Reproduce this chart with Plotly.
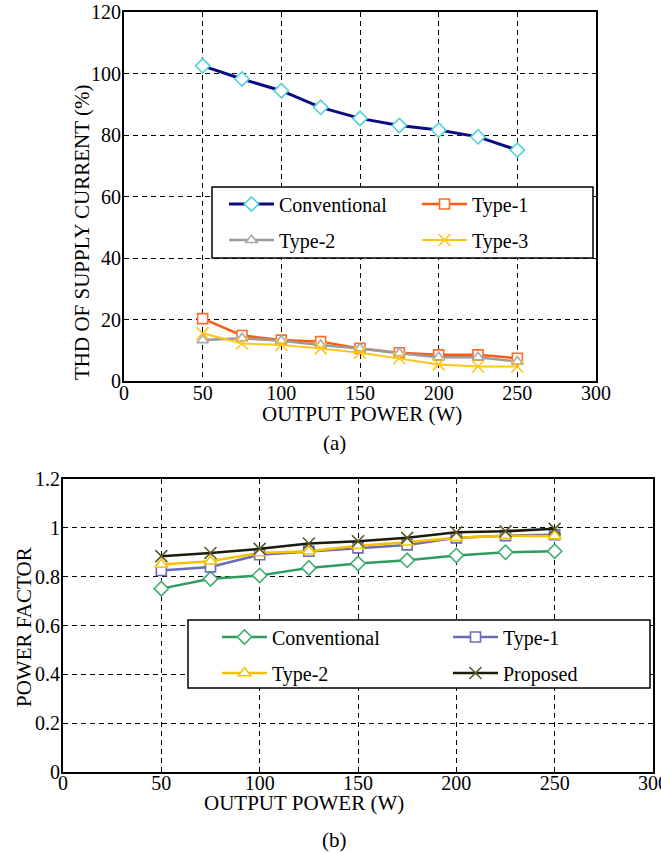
import plotly.graph_objects as go

W, H = 661, 853

# ---------------- data ----------------
x_power = [50, 75, 100, 125, 150, 175, 200, 225, 250]

thd_conventional = [102.5, 98.2, 94.4, 89.0, 85.4, 83.1, 81.6, 79.4, 75.1]
thd_type1 = [20.3, 14.8, 13.3, 12.8, 10.6, 9.2, 8.5, 8.5, 7.4]
thd_type2 = [13.3, 13.9, 13.1, 11.7, 10.6, 9.0, 7.7, 7.7, 6.3]
thd_type3 = [15.5, 12.2, 11.7, 10.6, 9.2, 7.4, 5.4, 4.7, 4.7]

pf_conventional = [0.751, 0.791, 0.805, 0.836, 0.854, 0.867, 0.887, 0.900, 0.904]
pf_type1 = [0.825, 0.840, 0.890, 0.904, 0.918, 0.930, 0.959, 0.968, 0.972]
pf_type2 = [0.850, 0.863, 0.897, 0.904, 0.927, 0.941, 0.959, 0.968, 0.966]
pf_proposed = [0.884, 0.897, 0.914, 0.936, 0.945, 0.959, 0.982, 0.986, 0.996]

x_ticks = [0, 50, 100, 150, 200, 250, 300]
thd_ticks = [0, 20, 40, 60, 80, 100, 120]
pf_ticks = [0, 0.2, 0.4, 0.6, 0.8, 1.0, 1.2]
pf_tick_labels = ["0", "0.2", "0.4", "0.6", "0.8", "1", "1.2"]

FONT = "Liberation Serif"


def px_x(p):
    return p / W


def px_y(p):
    return 1 - p / H


fig = go.Figure()

# ---------------- top chart (a) ----------------
top_series = [
    ("Conventional", thd_conventional, "#0c0c82", 3, "diamond", "#4fd3d8", 11, "legend"),
    ("Type-1", thd_type1, "#ff5a14", 2.5, "square", "#ff6a26", 10, "legend2"),
    ("Type-2", thd_type2, "#9a9a9a", 2.5, "triangle-up", "#a8a8a8", 10, "legend3"),
    ("Type-3", thd_type3, "#ffc61a", 2, "x-thin", "#ffc61a", 12, "legend4"),
]
for name, vals, lc, lw, sym, mc, ms, lg in top_series:
    fig.add_trace(go.Scatter(
        x=x_power, y=vals, name=name, mode="lines+markers",
        line=dict(color=lc, width=lw),
        marker=dict(symbol=sym, size=ms, color="white" if sym != "x-thin" else mc,
                    line=dict(color=mc, width=1.6)),
        xaxis="x", yaxis="y", legend=lg, showlegend=True,
    ))

# ---------------- bottom chart (b) ----------------
bot_series = [
    ("Conventional", pf_conventional, "#2e9b5f", 2.5, "diamond", "#3fae70", 11, "legend5"),
    ("Type-1", pf_type1, "#6b6bb8", 2.5, "square", "#6b6bb8", 10, "legend6"),
    ("Type-2", pf_type2, "#f5c000", 2.5, "triangle-up", "#f5c400", 11, "legend7"),
    ("Proposed", pf_proposed, "#1c1c0a", 2.5, "x-thin", "#5a5a28", 12, "legend8"),
]
for name, vals, lc, lw, sym, mc, ms, lg in bot_series:
    fig.add_trace(go.Scatter(
        x=x_power, y=vals, name=name, mode="lines+markers",
        line=dict(color=lc, width=lw),
        marker=dict(symbol=sym, size=ms, color="white" if sym != "x-thin" else mc,
                    line=dict(color=mc, width=1.6)),
        xaxis="x2", yaxis="y2", legend=lg, showlegend=True,
    ))

axis_common = dict(
    showline=True, mirror=True, linecolor="black", linewidth=2,
    showgrid=True, gridcolor="black", gridwidth=1.3, griddash="5px,4px",
    zeroline=False, ticks="", automargin=False, ticklabeloverflow="allow",
    tickfont=dict(family=FONT, size=20, color="black"),
)

fig.update_layout(
    width=W, height=H,
    margin=dict(l=0, r=0, t=0, b=0, autoexpand=False),
    paper_bgcolor="white", plot_bgcolor="white",
    showlegend=True,
    font=dict(family=FONT, size=20, color="black"),
    xaxis=dict(domain=[px_x(124), px_x(596)], anchor="y", range=[0, 300],
               tickvals=x_ticks, ticklabelstandoff=-7, **axis_common),
    yaxis=dict(domain=[px_y(381), px_y(12)], anchor="x", range=[0, 120],
               tickvals=thd_ticks, ticklabelstandoff=-3, **axis_common),
    xaxis2=dict(domain=[px_x(63), px_x(653)], anchor="y2", range=[0, 300],
                tickvals=x_ticks, ticklabelstandoff=-8, **axis_common),
    yaxis2=dict(domain=[px_y(772), px_y(479)], anchor="x2", range=[0, 1.2],
                tickvals=pf_ticks, ticktext=pf_tick_labels, ticklabelstandoff=-3,
                **axis_common),
)

# legend boxes
fig.add_shape(type="rect", xref="paper", yref="paper",
              x0=px_x(212), x1=px_x(593), y0=px_y(258), y1=px_y(187),
              fillcolor="white", line=dict(color="black", width=1.5), layer="above")
fig.add_shape(type="rect", xref="paper", yref="paper",
              x0=px_x(188), x1=px_x(650), y0=px_y(688), y1=px_y(620),
              fillcolor="white", line=dict(color="black", width=1.5), layer="above")

# legends: one per entry, placed like a 2x2 grid
leg_pos = {
    "legend": (224, 204), "legend2": (417, 204),
    "legend3": (224, 240), "legend4": (417, 240),
    "legend5": (217, 637), "legend6": (448, 637),
    "legend7": (217, 673), "legend8": (448, 673),
}
for key, (lx, ly) in leg_pos.items():
    fig.update_layout({key: dict(
        x=px_x(lx), y=px_y(ly), xanchor="left", yanchor="middle",
        bgcolor="rgba(0,0,0,0)", borderwidth=0,
        font=dict(family=FONT, size=20, color="black"),
        itemwidth=45, visible=True,
    )})

# titles and captions
ann = [
    ("OUTPUT POWER (W)", 362, 414, 0),
    ("THD OF SUPPLY CURRENT (%)", 82, 233, -90),
    ("(a)", 334, 443, 0),
    ("OUTPUT POWER (W)", 304, 803, 0),
    ("POWER FACTOR", 24, 627, -90),
    ("(b)", 334, 840, 0),
]
for text, ax, ay, ang in ann:
    fig.add_annotation(text=text, xref="paper", yref="paper",
                       x=px_x(ax), y=px_y(ay), xanchor="center", yanchor="middle",
                       showarrow=False, textangle=ang,
                       font=dict(family=FONT, size=21, color="black"))

fig.write_html(
    "out.html",
    config={"displayModeBar": False},
    post_script="document.body.style.margin='0';document.body.style.padding='0';",
)
